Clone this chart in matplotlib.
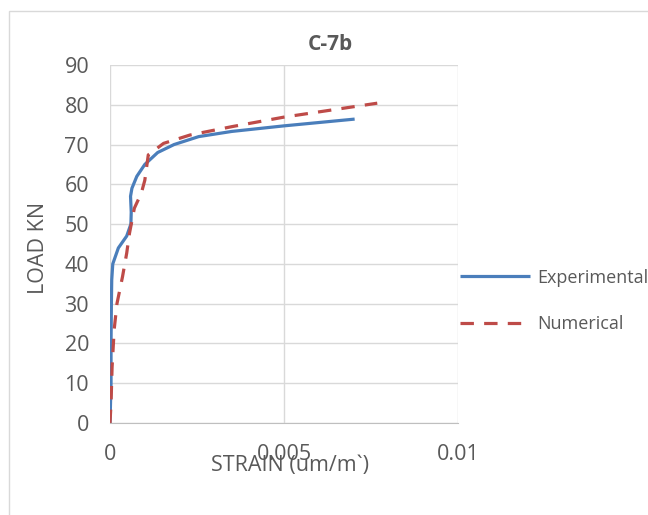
import matplotlib.pyplot as plt
from matplotlib.patches import Rectangle

plt.rcParams['font.family'] = ['Open Sans', 'DejaVu Sans']

# ------------------- Data ------------------- #

exp_strain = [0, 0.00003, 0.00003, 0.00004, 0.00005, 0.00008, 0.00024, 0.00048, 0.0006,
              0.00061, 0.00059, 0.00063, 0.00077, 0.001, 0.00137, 0.00184, 0.00255,
              0.0035, 0.005, 0.00703]
exp_load = [0, 10, 20, 30, 36, 40, 44, 47, 50,
            53, 57, 59, 62, 65, 68, 70, 72,
            73.3, 74.7, 76.4]

num_strain = [0, 0.00003, 0.00006, 0.00012, 0.0002, 0.00036, 0.00048, 0.00056, 0.0007,
              0.0009, 0.001, 0.0011, 0.00154, 0.0023, 0.0035, 0.005, 0.00768]
num_load = [0, 5, 14, 23.5, 30, 36.8, 42.7, 47.7, 54,
            57.8, 61, 67.4, 70.3, 72.4, 74.5, 76.9, 80.4]

x_ticks = [0, 0.005, 0.01]
x_tick_labels = ['0', '0.005', '0.01']
y_ticks = list(range(0, 100, 10))

TEXT = '#595959'

# ------------------- Chart ------------------- #

fig = plt.figure(figsize=(6.48, 5.15), dpi=100)
fig.patches.append(Rectangle((9 / 648, -0.01), 1.0, 1 - 11 / 515 + 0.01,
                             transform=fig.transFigure, fill=False,
                             edgecolor='#d9d9d9', linewidth=1))

ax = fig.add_axes([110 / 648, 1 - 423 / 515, 348 / 648, 358 / 515])

ax.plot(exp_strain, exp_load, color='#4a7ebb', linewidth=2.3,
        solid_capstyle='butt', label='Experimental')
ax.plot(num_strain, num_load, color='#be4b48', linewidth=2.3,
        linestyle=(0, (4.2, 3.2)), dash_capstyle='butt', label='Numerical')

ax.set_xlim(0, 0.01)
ax.set_ylim(0, 90)
ax.set_xticks(x_ticks)
ax.set_xticklabels(x_tick_labels)
ax.set_yticks(y_ticks)
ax.grid(True, color='#d9d9d9', linewidth=1)
ax.set_axisbelow(True)
for side in ['top', 'right', 'left']:
    ax.spines[side].set_visible(False)
ax.spines['bottom'].set_color('#bfbfbf')
ax.tick_params(length=0, labelsize=15.5, colors=TEXT)
ax.tick_params(axis='x', pad=15)
ax.tick_params(axis='y', pad=15)

fig.text(290 / 648, 1 - 465 / 515, 'STRAIN (um/m`)', ha='center', va='center',
         fontsize=15.5, color=TEXT)
fig.text(38 / 648, 1 - 248 / 515, 'LOAD KN', ha='center', va='center',
         rotation=90, fontsize=15.5, color=TEXT)
fig.text(330 / 648, 1 - 44 / 515, 'C-7b', ha='center', va='center',
         fontsize=15, fontweight='bold', color=TEXT)

# legend sits just right of the plot, centred around y = 301 px
ax.legend(loc='center left', bbox_to_anchor=(1.005, (423 - 301) / 358),
          frameon=False, fontsize=13, labelcolor=TEXT, handlelength=3.9,
          handletextpad=0.4, labelspacing=1.6, borderaxespad=0.0,
          borderpad=0.0)

fig.savefig('out.png', dpi=100)
